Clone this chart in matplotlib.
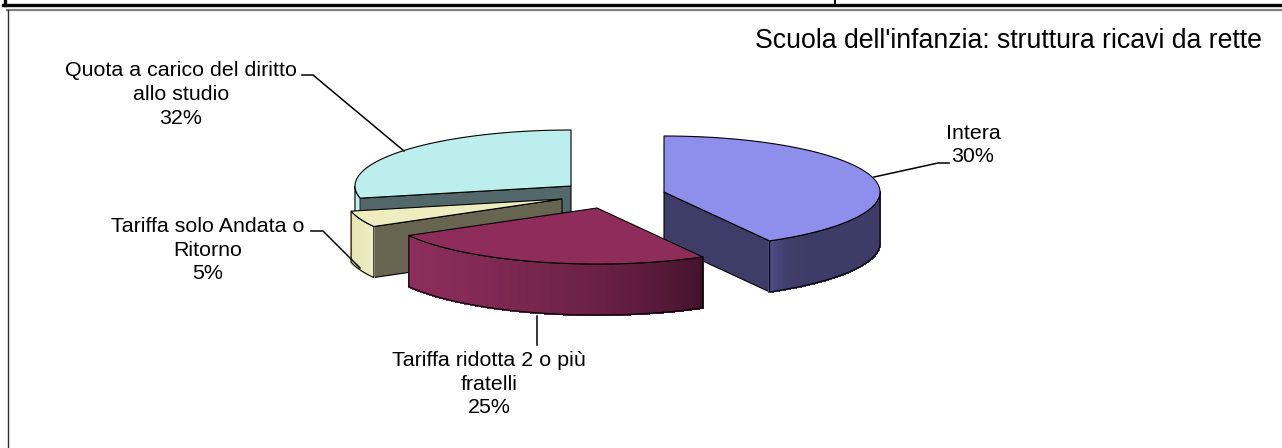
import numpy as np
import matplotlib
matplotlib.use('Agg')
from matplotlib import pyplot as plt
from matplotlib.patches import Polygon
from matplotlib.collections import PolyCollection
from matplotlib.colors import to_rgb

plt.rcParams['font.family'] = ['Liberation Sans', 'DejaVu Sans']

# dati
categories = ['Intera', 'Tariffa ridotta 2 o più\nfratelli',
              'Tariffa solo Andata o\nRitorno',
              'Quota a carico del diritto\nallo studio']
values = [30, 25, 5, 32]
title = "Scuola dell'infanzia: struttura ricavi da rette"

# stile delle fette: piano, lato interno, lato esterno (da destra a sinistra)
top_colors = ['#8E8EEC', '#8E2C5C', '#EEEDC0', '#BBEEEC']
face_colors = ['#3E3D68', '#5E2040', '#67654F', '#52686A']
side_colors = [('#3D3C66', '#4C4C86'), ('#3C0F27', '#8C2E5C'),
               ('#EFEEC6', '#E6E5B2'), ('#BBEEEC', '#C4F0EE')]
side_power = [10, 0.55, 1, 1]

# geometria 3D finta di Excel
centers = [(664, 192), (597, 208), (562, 199), (571, 186)]
rx, ry, depth = 216, 56, 51
draw_order = [3, 2, 0, 1]


# la prospettiva sposta gli angoli: il resto a 100 finisce nella prima fetta
def warp(phi):
    return phi + 15 * np.sin(np.radians(phi) / 2)


def ring(c, t, dy=0):
    t = np.radians(t)
    return np.column_stack([c[0] + rx * np.sin(t), c[1] - ry * np.cos(t) + dy])


spans = [v * 3.6 for v in values]
spans[0] += 360 - sum(spans)
edges = warp(np.concatenate([[0], np.cumsum(spans)]))

fig = plt.figure(figsize=(12.82, 4.48), dpi=100)
ax = fig.add_axes([0, 0, 1, 1])
ax.set_xlim(0, 1282)
ax.set_ylim(448, 0)
ax.axis('off')

# cornice della pagina
ax.plot([4.5, 4.5], [0, 5.5], color='k', lw=2.4)
ax.plot([3, 1282], [5.5, 5.5], color='k', lw=2.4)
ax.plot([7, 1282], [10.2, 10.2], color='#808080', lw=1.6)
ax.plot([7.7, 7.7], [10, 448], color='#303030', lw=1.0)
ax.plot([835, 835], [0, 4], color='k', lw=1.4)

for i in draw_order:
    c = centers[i]
    t0, t1 = edges[i], edges[i + 1]
    # lato interno visibile
    t_face = t1 if t1 < 180 else (t0 if t0 > 180 else None)
    if t_face is not None:
        p = ring(c, [t_face])[0]
        ax.add_patch(Polygon([c, p, (p[0], p[1] + depth), (c[0], c[1] + depth)],
                             fc=face_colors[i], ec='k', lw=0.8))
    # lato esterno a strisce per la sfumatura
    a, b = max(t0, 90), min(t1, 270)
    if a < b:
        ts = np.linspace(a, b, 80)
        up = ring(c, ts)
        low = ring(c, ts, depth)
        polys = [[up[k], up[k + 1], low[k + 1], low[k]] for k in range(len(ts) - 1)]
        c0, c1 = np.array(to_rgb(side_colors[i][0])), np.array(to_rgb(side_colors[i][1]))
        xpos = up[:-1, 0]
        mix = ((xpos.max() - xpos) / (xpos.max() - xpos.min())) ** side_power[i]
        cols = [c0 + (c1 - c0) * m for m in mix]
        ax.add_collection(PolyCollection(polys, facecolors=cols, edgecolors=cols,
                                         linewidths=1.0, antialiaseds=False))
        ax.add_patch(Polygon(np.vstack([up, low[::-1]]), fill=False, ec='k', lw=0.8))
    # piano superiore
    ts = np.linspace(t0, t1, 120)
    ax.add_patch(Polygon(np.vstack([[c], ring(c, ts)]), fc=top_colors[i], ec='k', lw=0.8))

# linee di richiamo
leaders = [[(949, 163), (938, 163), (874, 177)],
           [(537, 316), (537, 345)],
           [(311, 231), (323, 231), (360, 268)],
           [(302, 75), (313, 75), (404, 151)]]
for pts in leaders:
    xs, ys = zip(*pts)
    ax.plot(xs, ys, color='k', lw=1.1, zorder=1)

label_pos = [(973, 145), (489, 384), (208, 250), (181, 94.5)]
for name, v, pos in zip(categories, values, label_pos):
    ax.text(pos[0], pos[1], f'{name}\n{v}%', ha='center', va='center',
            fontsize=15.4, linespacing=1.31, color='k')

ax.text(1262, 41.5, title, ha='right', va='center', fontsize=19.2, color='k')

fig.savefig('out.png', dpi=100)
